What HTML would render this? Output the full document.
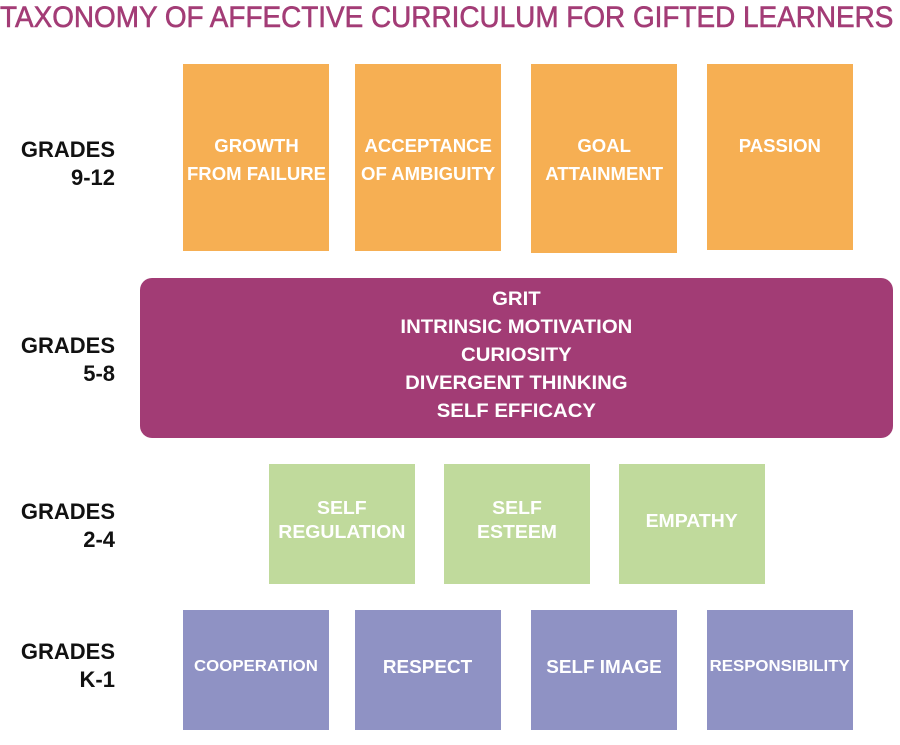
<!DOCTYPE html>
<html><head><style>
body{margin:0;width:900px;height:745px;background:#fff;position:relative;overflow:hidden;font-family:"Liberation Sans",sans-serif;}
.t{position:absolute;left:0;top:1px;font-size:30px;color:#a33c76;white-space:nowrap;transform-origin:0 0;transform:scaleX(0.93);-webkit-text-stroke:0.6px #a33c76}
.g{position:absolute;right:785px;text-align:right;font-weight:bold;font-size:22px;line-height:28px;color:#111;transform:scaleX(1.0);transform-origin:100% 0}
.b{position:absolute;color:#fff;text-align:center;font-weight:bold;font-size:18px;line-height:28px;box-sizing:border-box}
.b span{display:inline-block;white-space:nowrap}
.o{background:#f6af53;top:64px;height:187px;width:146px;padding-top:68px}
.o span{transform:scaleX(1.03)}
.gr{background:#c0da9c;top:464px;height:120px;width:146px}
.gr span{transform:scaleX(1.08)}
.p{background:#8f92c4;top:610px;height:120px;width:146px;padding-top:43px}
.p span{transform:scaleX(1.05)}
.m{position:absolute;left:140px;top:278px;width:753px;height:160px;background:#a23c75;border-radius:12px;color:#fff;text-align:center;font-weight:bold;font-size:19px;line-height:28px;padding-top:8px;box-sizing:border-box}
.m span{display:inline-block;transform:scaleX(1.07)}
</style></head><body>
<div class="t">TAXONOMY OF AFFECTIVE CURRICULUM FOR GIFTED LEARNERS</div>
<div class="g" style="top:136px">GRADES<br>9-12</div>
<div class="g" style="top:332px">GRADES<br>5-8</div>
<div class="g" style="top:498px">GRADES<br>2-4</div>
<div class="g" style="top:638px">GRADES<br>K-1</div>

<div class="b o" style="left:183px"><span>GROWTH<br>FROM FAILURE</span></div>
<div class="b o" style="left:355px"><span>ACCEPTANCE<br>OF AMBIGUITY</span></div>
<div class="b o" style="left:531px;height:189px"><span>GOAL<br>ATTAINMENT</span></div>
<div class="b o" style="left:707px;height:186px"><span>PASSION</span></div>

<div class="m"><span>GRIT<br>INTRINSIC MOTIVATION<br>CURIOSITY<br>DIVERGENT THINKING<br>SELF EFFICACY</span></div>

<div class="b gr" style="left:269px;padding-top:32px;line-height:24px"><span>SELF<br>REGULATION</span></div>
<div class="b gr" style="left:444px;padding-top:32px;line-height:24px"><span>SELF<br>ESTEEM</span></div>
<div class="b gr" style="left:619px;padding-top:43px"><span>EMPATHY</span></div>

<div class="b p" style="left:183px;font-size:16px"><span>COOPERATION</span></div>
<div class="b p" style="left:355px"><span>RESPECT</span></div>
<div class="b p" style="left:531px"><span>SELF IMAGE</span></div>
<div class="b p" style="left:707px;font-size:16px"><span>RESPONSIBILITY</span></div>
</body></html>
